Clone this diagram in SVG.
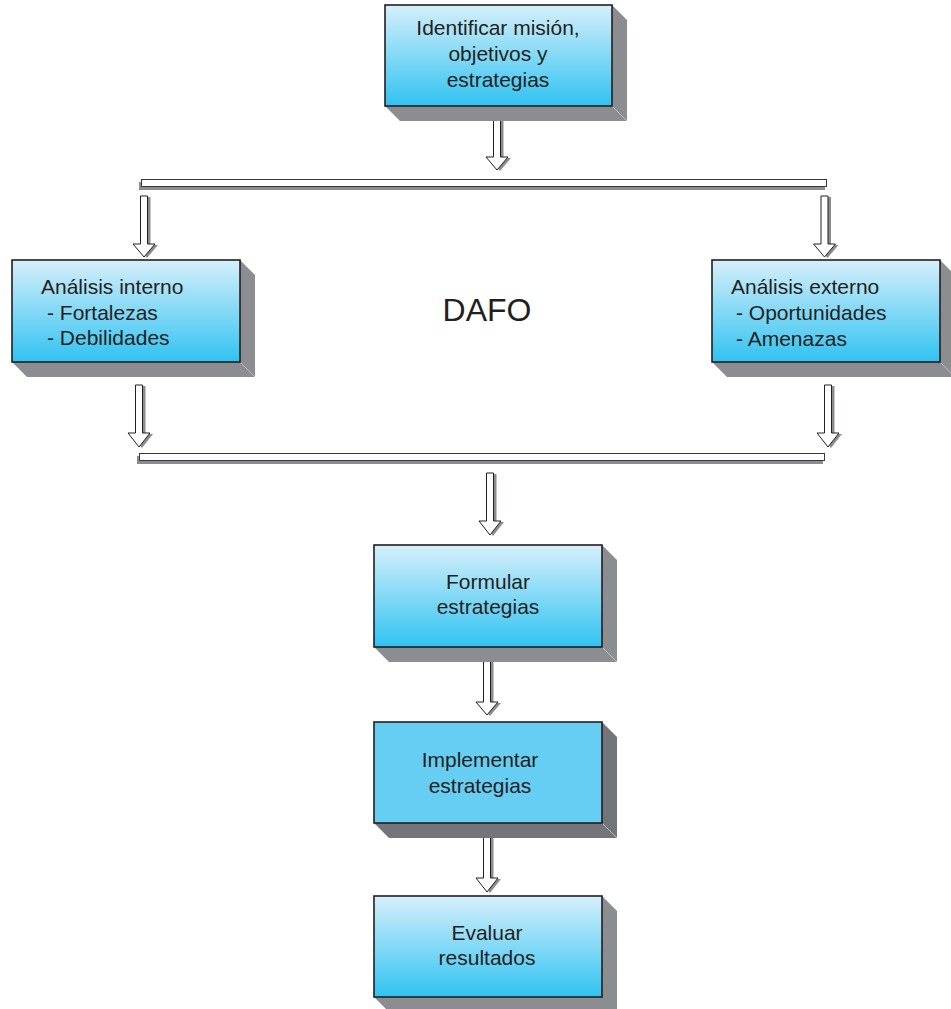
<svg xmlns="http://www.w3.org/2000/svg" width="951" height="1009" viewBox="0 0 951 1009">
<defs>
<linearGradient id="g" x1="0" y1="0" x2="0" y2="1">
<stop offset="0" stop-color="#d6effb"/>
<stop offset="1" stop-color="#30c3f1"/>
</linearGradient>
<style>
.box{fill:url(#g);stroke:#231f20;stroke-width:1.6}
.flat{fill:#66cdf3;stroke:#231f20;stroke-width:1.6}
.sh{fill:#8c8d90}
.shd{fill:#747578}
.edge{stroke:#c9cacc;stroke-width:0.8;fill:none}
.t{font-family:"Liberation Sans",Arial,sans-serif;font-size:21px;fill:#231f20}
.c{text-anchor:middle}
.arr{fill:#fff;stroke:#231f20;stroke-width:1}
.ash{fill:#8c8d90}
.bar{fill:#fff;stroke:#3a3a3a;stroke-width:1}
</style>
</defs>
<rect width="951" height="1009" fill="#fff"/>

<g id="connectors">
<rect x="139" y="182" width="686" height="8" class="ash"/>
<rect x="141.5" y="179.5" width="685" height="7" class="bar"/>
<rect x="137" y="456" width="686" height="8" class="ash"/>
<rect x="139.5" y="453.5" width="685" height="7" class="bar"/>
<g transform="translate(497,107)">
<path class="ash" transform="translate(3,1)" d="M-3.5,0 h7 V50 h7.5 L0,63 L-11,50 h7.5 Z"/>
<path class="arr" d="M-3.5,0 h7 V50 h7.5 L0,63 L-11,50 h7.5 Z"/>
</g>
<g transform="translate(144,196)">
<path class="ash" transform="translate(3,1)" d="M-3.5,0 h7 V48 h7.5 L0,61 L-11,48 h7.5 Z"/>
<path class="arr" d="M-3.5,0 h7 V48 h7.5 L0,61 L-11,48 h7.5 Z"/>
</g>
<g transform="translate(824.5,196)">
<path class="ash" transform="translate(3,1)" d="M-3.5,0 h7 V48 h7.5 L0,61 L-11,48 h7.5 Z"/>
<path class="arr" d="M-3.5,0 h7 V48 h7.5 L0,61 L-11,48 h7.5 Z"/>
</g>
<g transform="translate(139,385)">
<path class="ash" transform="translate(3,1)" d="M-3.5,0 h7 V48 h7.5 L0,62 L-11,48 h7.5 Z"/>
<path class="arr" d="M-3.5,0 h7 V48 h7.5 L0,62 L-11,48 h7.5 Z"/>
</g>
<g transform="translate(828,385)">
<path class="ash" transform="translate(3,1)" d="M-3.5,0 h7 V48 h7.5 L0,62 L-11,48 h7.5 Z"/>
<path class="arr" d="M-3.5,0 h7 V48 h7.5 L0,62 L-11,48 h7.5 Z"/>
</g>
<g transform="translate(490,473)">
<path class="ash" transform="translate(3,1)" d="M-3.5,0 h7 V48 h7.5 L0,62 L-11,48 h7.5 Z"/>
<path class="arr" d="M-3.5,0 h7 V48 h7.5 L0,62 L-11,48 h7.5 Z"/>
</g>
<g transform="translate(487,654)">
<path class="ash" transform="translate(3,1)" d="M-3.5,0 h7 V48 h7.5 L0,61 L-11,48 h7.5 Z"/>
<path class="arr" d="M-3.5,0 h7 V48 h7.5 L0,61 L-11,48 h7.5 Z"/>
</g>
<g transform="translate(487,830)">
<path class="ash" transform="translate(3,1)" d="M-3.5,0 h7 V48 h7.5 L0,62 L-11,48 h7.5 Z"/>
<path class="arr" d="M-3.5,0 h7 V48 h7.5 L0,62 L-11,48 h7.5 Z"/>
</g>
</g>

<g id="identificar">
<polygon class="sh" points="612,5 627,20 627,121 400,121 385,106"/>
<line class="edge" x1="612" y1="106" x2="627" y2="121"/>
<rect class="box" x="385" y="5" width="227" height="101"/>
<text class="t c" x="498" y="35">Identificar misión,</text>
<text class="t c" x="498" y="61">objetivos y</text>
<text class="t c" x="498" y="87">estrategias</text>
</g>

<g id="interno">
<polygon class="sh" points="240,260 255,275 255,377 27,377 12,362"/>
<line class="edge" x1="240" y1="362" x2="255" y2="377"/>
<rect class="box" x="12" y="260" width="228" height="102"/>
<text class="t" x="41" y="294">Análisis interno</text>
<text class="t" x="47" y="320">- Fortalezas</text>
<text class="t" x="47" y="345">- Debilidades</text>
</g>

<g id="dafo">
<text x="487" y="321" text-anchor="middle" font-family="Liberation Sans, Arial, sans-serif" font-size="32" fill="#231f20">DAFO</text>
</g>

<g id="externo">
<polygon class="sh" points="940,260 955,275 955,377 727,377 712,362"/>
<line class="edge" x1="940" y1="362" x2="955" y2="377"/>
<rect class="box" x="712" y="260" width="228" height="102"/>
<text class="t" x="731" y="294">Análisis externo</text>
<text class="t" x="736" y="320">- Oportunidades</text>
<text class="t" x="736" y="346">- Amenazas</text>
</g>

<g id="formular">
<polygon class="sh" points="602,545 617,560 617,662 389,662 374,647"/>
<line class="edge" x1="602" y1="647" x2="617" y2="662"/>
<rect class="box" x="374" y="545" width="228" height="102"/>
<text class="t c" x="488" y="589">Formular</text>
<text class="t c" x="488" y="614">estrategias</text>
</g>

<g id="implementar">
<polygon class="shd" points="602,722 617,737 617,838 389,838 374,823"/>
<line class="edge" x1="602" y1="823" x2="617" y2="838"/>
<rect class="flat" x="374" y="722" width="228" height="101"/>
<text class="t c" x="480" y="767">Implementar</text>
<text class="t c" x="480" y="793">estrategias</text>
</g>

<g id="evaluar">
<polygon class="sh" points="602,896 617,911 617,1012 389,1012 374,997"/>
<rect class="box" x="374" y="896" width="228" height="101"/>
<text class="t c" x="487" y="940">Evaluar</text>
<text class="t c" x="487" y="965">resultados</text>
</g>
</svg>
